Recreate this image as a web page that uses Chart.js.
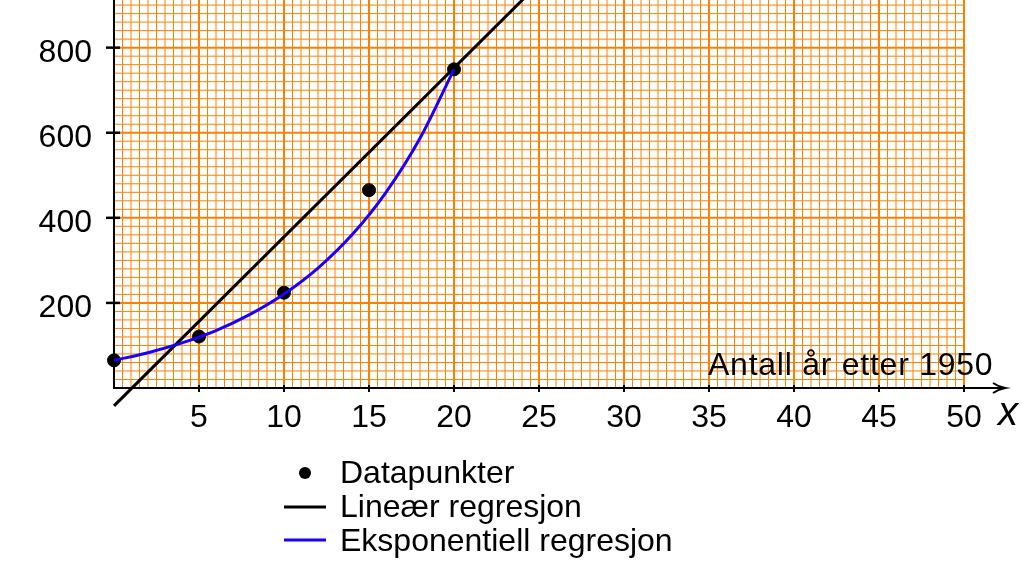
<!DOCTYPE html>
<html>
<head>
<meta charset="utf-8">
<script src="https://cdn.jsdelivr.net/npm/chart.js@4/dist/chart.umd.min.js"></script>
<style>
  html, body { margin: 0; padding: 0; background: #fff; }
  #c { display: block; }
</style>
</head>
<body>
<canvas id="c" width="1022" height="563"></canvas>
<script>
'use strict';

// data
const pointsX = [0, 5, 10, 15, 20];
const pointsY = [65, 121, 224, 465, 749];
const linearX = [0, 25];
const linearY = [-42, 951];
const expX = [0, 2, 4, 6, 8, 10, 12, 14, 16, 18, 20];
const expY = [65, 83, 106, 135, 173, 221, 282, 360, 460, 587, 749];
const xTickLabels = [5, 10, 15, 20, 25, 30, 35, 40, 45, 50];
const yTickLabels = [200, 400, 600, 800];
const legendLabels = ['Datapunkter', 'Lineær regresjon', 'Eksponentiell regresjon'];
const xTitle = 'Antall år etter 1950';
const xName = 'x';

const FONT = '32px "Liberation Sans", Arial, sans-serif';
const ORANGE = 'rgb(255,128,0)';

const toXY = (xs, ys) => xs.map((x, i) => ({ x, y: ys[i] }));

// millimetre-paper grid, drawn from the scales
const paper = {
  id: 'paper',
  beforeDatasetsDraw(chart) {
    const { ctx, chartArea } = chart;
    const xs = chart.scales.x, ys = chart.scales.y;
    ctx.save();
    ctx.strokeStyle = ORANGE;
    for (let i = 0; i <= 100; i++) {           // every 0.5 on x
      const px = xs.getPixelForValue(i * 0.5);
      ctx.lineWidth = i % 10 === 0 ? 2 : 1;
      ctx.beginPath();
      ctx.moveTo(px, chartArea.top);
      ctx.lineTo(px, chartArea.bottom);
      ctx.stroke();
    }
    for (let v = 0; v <= ys.max; v += 20) {     // every 20 on y
      const py = ys.getPixelForValue(v);
      ctx.lineWidth = v % 200 === 0 ? 2 : 1;
      ctx.beginPath();
      ctx.moveTo(chartArea.left, py);
      ctx.lineTo(chartArea.right, py);
      ctx.stroke();
    }
    // axes
    ctx.strokeStyle = '#000';
    ctx.lineWidth = 2;
    const x0 = xs.getPixelForValue(0), y0 = ys.getPixelForValue(0);
    ctx.beginPath();
    ctx.moveTo(x0, 0);
    ctx.lineTo(x0, y0);
    ctx.lineTo(1003, y0);
    ctx.stroke();
    ctx.restore();
  },
};

const decor = {
  id: 'decor',
  afterDraw(chart) {
    const { ctx, chartArea } = chart;
    const xs = chart.scales.x, ys = chart.scales.y;
    const y0 = ys.getPixelForValue(0);
    ctx.save();

    // arrow head
    ctx.strokeStyle = '#000';
    ctx.lineWidth = 2;
    ctx.beginPath();
    ctx.moveTo(993, y0 - 5);
    ctx.quadraticCurveTo(999, y0 - 1, 1005, y0);
    ctx.quadraticCurveTo(999, y0 + 1, 993, y0 + 5);
    ctx.stroke();

    // tick marks
    xTickLabels.forEach(v => {
      const px = xs.getPixelForValue(v);
      ctx.beginPath();
      ctx.moveTo(px, y0 - 3);
      ctx.lineTo(px, y0 + 4);
      ctx.stroke();
    });
    ctx.lineWidth = 2.5;
    yTickLabels.forEach(v => {
      const py = ys.getPixelForValue(v);
      ctx.beginPath();
      ctx.moveTo(chartArea.left - 8, py);
      ctx.lineTo(chartArea.left + 6, py);
      ctx.stroke();
    });

    // tick labels
    ctx.fillStyle = '#000';
    ctx.font = FONT;
    ctx.textBaseline = 'alphabetic';
    ctx.textAlign = 'center';
    xTickLabels.forEach(v => ctx.fillText(String(v), xs.getPixelForValue(v), 427));
    ctx.textAlign = 'right';
    yTickLabels.forEach(v => ctx.fillText(String(v), 92, ys.getPixelForValue(v) + 14));

    // axis titles
    ctx.textAlign = 'left';
    ctx.letterSpacing = '0.75px';
    ctx.fillText(xTitle, 708, 375);
    ctx.letterSpacing = '0px';
    ctx.font = 'italic 40px "Liberation Sans", Arial, sans-serif';
    ctx.fillText(xName, 998, 425);

    // legend
    const ds = chart.data.datasets;
    ctx.font = FONT;
    ctx.textAlign = 'left';
    ctx.fillStyle = ds[0].backgroundColor;
    ctx.beginPath();
    ctx.arc(305, 473, 6, 0, Math.PI * 2);
    ctx.fill();
    ctx.fillStyle = '#000';
    ctx.fillText(legendLabels[0], 340, 483);

    ctx.lineWidth = 3;
    ctx.strokeStyle = ds[1].borderColor;
    ctx.beginPath();
    ctx.moveTo(284, 507);
    ctx.lineTo(326, 507);
    ctx.stroke();
    ctx.fillText(legendLabels[1], 340, 517);

    ctx.strokeStyle = ds[2].borderColor;
    ctx.beginPath();
    ctx.moveTo(284, 540);
    ctx.lineTo(326, 540);
    ctx.stroke();
    ctx.fillText(legendLabels[2], 340, 551);

    ctx.restore();
  },
};

new Chart(document.getElementById('c'), {
  type: 'scatter',
  data: {
    datasets: [
      {
        label: legendLabels[0],
        data: toXY(pointsX, pointsY),
        backgroundColor: '#000',
        borderColor: '#000',
        pointRadius: 6.5,
        pointHoverRadius: 6.5,
        showLine: false,
        clip: false,
        order: 3,
      },
      {
        label: legendLabels[1],
        data: toXY(linearX, linearY),
        borderColor: '#000',
        borderWidth: 3,
        pointRadius: 0,
        showLine: true,
        clip: { left: 5, top: 0, right: 0, bottom: 30 },
        order: 2,
      },
      {
        label: legendLabels[2],
        data: toXY(expX, expY),
        borderColor: '#1a00ff',
        borderWidth: 3,
        pointRadius: 0,
        showLine: true,
        cubicInterpolationMode: 'monotone',
        clip: { left: 5, top: 0, right: 0, bottom: 0 },
        order: 1,
      },
    ],
  },
  options: {
    responsive: false,
    animation: false,
    events: [],
    layout: { autoPadding: false, padding: { left: 114, right: 58, top: 0, bottom: 175 } },
    plugins: { legend: { display: false }, tooltip: { enabled: false } },
    scales: {
      x: {
        type: 'linear',
        min: 0,
        max: 50,
        ticks: { display: false },
        grid: { display: false, drawTicks: false },
        border: { display: false },
      },
      y: {
        type: 'linear',
        min: 0,
        max: 912,
        ticks: { display: false },
        grid: { display: false, drawTicks: false },
        border: { display: false },
      },
    },
  },
  plugins: [paper, decor],
});
</script>
</body>
</html>
